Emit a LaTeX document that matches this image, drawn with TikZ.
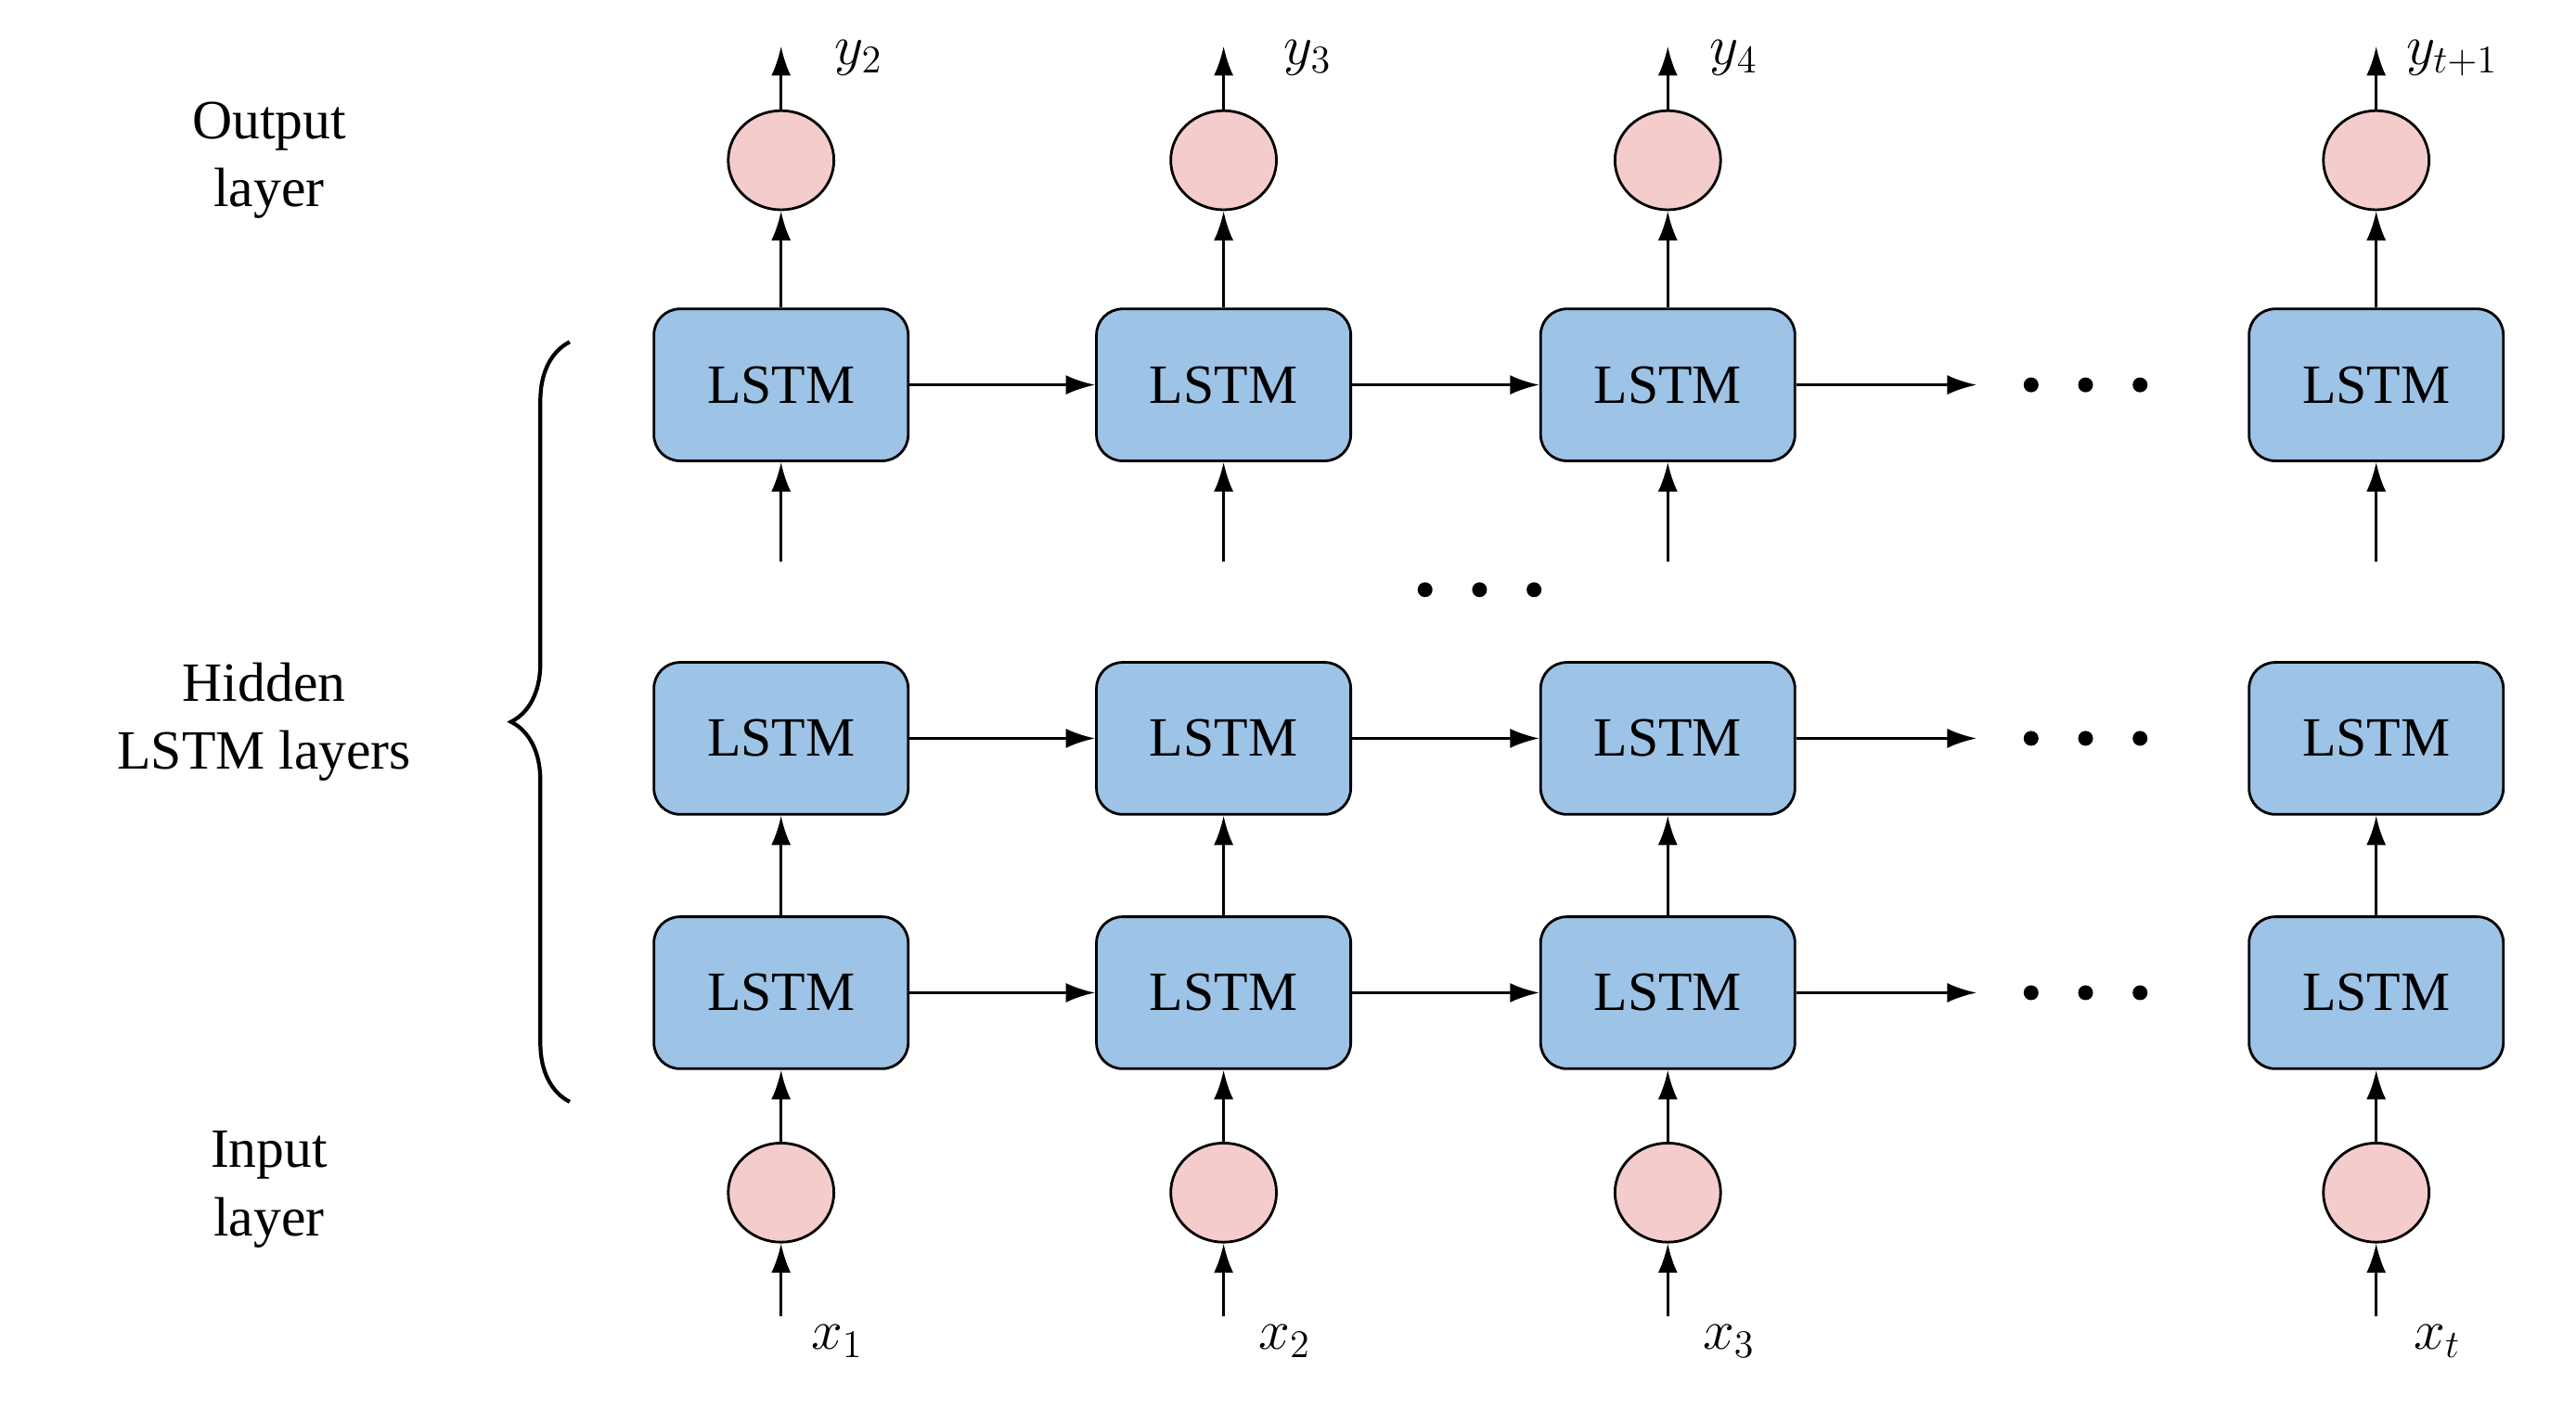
\documentclass[tikz,border=0pt]{standalone}
\usepackage{fontspec}
\setmainfont{Liberation Serif}
\usetikzlibrary{arrows.meta,decorations.pathreplacing,shapes.geometric}
\definecolor{boxc}{HTML}{9DC3E6}
\definecolor{circc}{HTML}{F4CCCC}
\begin{document}
\begin{tikzpicture}[x=0.0178cm,y=-0.0178cm,
  lstm/.style={draw=black,line width=0.8pt,fill=boxc,rounded corners=8pt,minimum width=154*0.0178cm,minimum height=92*0.0178cm,font=\fontsize{17}{20}\selectfont},
  cir/.style={draw=black,line width=0.8pt,fill=circc,ellipse,minimum width=64*0.0178cm,minimum height=60*0.0178cm,inner sep=0pt},
  arr/.style={-{Latex[length=9pt,width=6pt]},line width=0.9pt},
  lab/.style={font=\fontsize{17}{21}\selectfont,align=center},
  sub/.style={font=\fontsize{17}{20}\selectfont}]
\useasboundingbox (0,0) rectangle (1560,861);
\foreach \n/\x in {1/473,2/741,3/1010,4/1439}{
  \node[lstm] (t\n) at (\x,233) {LSTM};
  \node[lstm] (m\n) at (\x,447) {LSTM};
  \node[lstm] (b\n) at (\x,601) {LSTM};
  \node[cir] (o\n) at (\x,97) {};
  \node[cir] (i\n) at (\x,722) {};
  \coordinate (ot\n) at (\x,28);
  \coordinate (tb\n) at (\x,340);
  \coordinate (ib\n) at (\x,797);
  \draw[arr] (o\n) -- (ot\n);
  \draw[arr] (t\n) -- (o\n);
  \draw[arr] (tb\n) -- (t\n.south);
  \draw[arr] (b\n) -- (m\n);
  \draw[arr] (i\n) -- (b\n);
  \draw[arr] (ib\n) -- (i\n);
}
\foreach \r in {t,m,b}{
  \draw[arr] (\r1) -- (\r2);
  \draw[arr] (\r2) -- (\r3);
  \coordinate (\r e) at (1197,0);
  \draw[arr] (\r3.east) -- (\r3.east -| \r e);
}
\foreach \y in {233,447,601}{
  \foreach \dx in {0,33,66}{\fill (1230+\dx,\y) circle (4.5);}
}
\foreach \dx in {0,33,66}{\fill (863+\dx,357) circle (4.5);}
\node[sub] (y2) at (520,35) {$y_2$};
\node[sub] (y3) at (792,35) {$y_3$};
\node[sub] (y4) at (1050,35) {$y_4$};
\node[sub] (y5) at (1485,35) {$y_{t+1}$};
\node[sub] (x1) at (507,812) {$x_1$};
\node[sub] (x2) at (778,812) {$x_2$};
\node[sub] (x3) at (1047,812) {$x_3$};
\node[sub] (x4) at (1476,812) {$x_t$};
\node[lab] (ol) at (163,97) {Output\\layer};
\node[lab] (hl) at (160,437) {Hidden\\LSTM layers};
\node[lab] (il) at (163,720) {Input\\layer};
\coordinate (br1) at (345,667);
\coordinate (br2) at (345,207);
\draw[line width=1.2pt,decorate,decoration={brace,amplitude=18pt}] (br1) -- (br2);
\end{tikzpicture}
\end{document}
